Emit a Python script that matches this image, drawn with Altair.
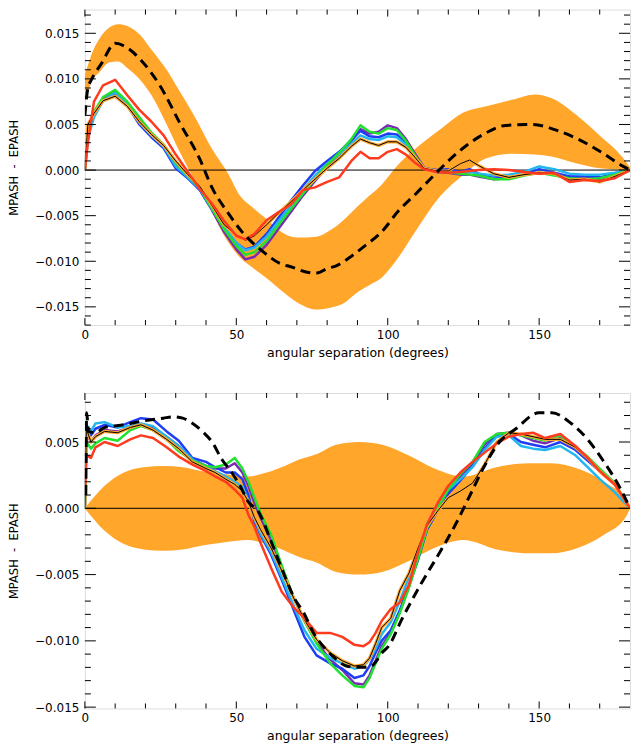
import altair as alt
import pandas as pd

# ---------------- TOP PANEL DATA ----------------
X_TOP = [0, 1, 3, 6, 10, 14, 18, 22, 26, 30, 34, 38, 42, 46, 50, 53, 56, 60, 64, 68,
         72, 76, 80, 84, 88, 91, 94, 97, 100, 103, 106, 109, 112, 116, 120, 124, 127, 130, 135, 140,
         145, 150, 155, 160, 165, 170, 175, 180]
BLACK_T = [0.0, 0.0050, 0.0062, 0.0076, 0.0081, 0.0070, 0.0053, 0.0039, 0.0027, 0.0010,
           -0.0005, -0.0018, -0.0039, -0.0060, -0.0071, -0.0077, -0.0072, -0.0060, -0.0047, -0.0035,
           -0.0022, -0.0010, 0.0002, 0.0013, 0.0026, 0.0034, 0.0030, 0.0027, 0.0031, 0.0031,
           0.0025, 0.0014, 0.0002, -0.0001, -0.0001, 0.0007, 0.0011, 0.0005, -0.0004, -0.0008,
           -0.0005, -0.0003, -0.0004, -0.0011, -0.0010, -0.0013, -0.0007, 0.0]
RED_T = [0.0, 0.0030, 0.0075, 0.0093, 0.0099, 0.0082, 0.0066, 0.0053, 0.0038, 0.0017,
         -0.0002, -0.0021, -0.0037, -0.0056, -0.0072, -0.0076, -0.0070, -0.0055, -0.0046, -0.0038,
         -0.0022, -0.0019, -0.0013, -0.0008, 0.0010, 0.0020, 0.0013, 0.0013, 0.0020, 0.0023,
         0.0017, 0.0008, 0.0001, -0.0002, -0.0003, -0.0002, -0.0001, 0.0000, 0.0001, 0.0000,
         -0.0002, -0.0004, -0.0003, -0.0013, -0.0011, -0.0012, -0.0009, 0.0]
GREEN_T = [0.0, 0.0045, 0.0064, 0.0080, 0.0088, 0.0075, 0.0058, 0.0041, 0.0028, 0.0008,
           -0.0006, -0.0020, -0.0042, -0.0065, -0.0083, -0.0093, -0.0090, -0.0078, -0.0060, -0.0043,
           -0.0026, -0.0010, 0.0006, 0.0019, 0.0034, 0.0049, 0.0042, 0.0040, 0.0046, 0.0044,
           0.0032, 0.0016, 0.0002, -0.0002, -0.0002, -0.0004, -0.0005, -0.0006, -0.0010, -0.0010,
           -0.0006, -0.0003, -0.0006, -0.0009, -0.0010, -0.0009, -0.0005, 0.0]
PURPLE_T = [0.0, 0.0042, 0.0062, 0.0078, 0.0086, 0.0073, 0.0055, 0.0039, 0.0026, 0.0006,
            -0.0007, -0.0022, -0.0044, -0.0068, -0.0087, -0.0098, -0.0095, -0.0082, -0.0064, -0.0046,
            -0.0028, -0.0012, 0.0004, 0.0017, 0.0032, 0.0045, 0.0040, 0.0042, 0.0049, 0.0046,
            0.0034, 0.0018, 0.0003, -0.0002, -0.0003, -0.0005, -0.0005, -0.0007, -0.0010, -0.0009,
            -0.0005, -0.0003, -0.0005, -0.0007, -0.0008, -0.0010, -0.0005, 0.0]
BLUE_T = [0.0, 0.0040, 0.0060, 0.0076, 0.0084, 0.0071, 0.0050, 0.0036, 0.0024, 0.0002,
          -0.0009, -0.0022, -0.0043, -0.0064, -0.0080, -0.0087, -0.0084, -0.0070, -0.0052, -0.0034,
          -0.0017, -0.0001, 0.0010, 0.0020, 0.0033, 0.0043, 0.0037, 0.0036, 0.0040, 0.0039,
          0.0030, 0.0015, 0.0002, 0.0000, 0.0001, -0.0002, 0.0001, -0.0004, -0.0007, -0.0008,
          -0.0005, 0.0001, -0.0003, -0.0007, -0.0007, -0.0008, -0.0004, 0.0]
CYAN_T = [0.0, 0.0035, 0.0058, 0.0076, 0.0085, 0.0072, 0.0052, 0.0038, 0.0026, 0.0004,
          -0.0008, -0.0021, -0.0043, -0.0063, -0.0080, -0.0088, -0.0085, -0.0073, -0.0056, -0.0039,
          -0.0022, -0.0006, 0.0007, 0.0017, 0.0029, 0.0038, 0.0034, 0.0033, 0.0037, 0.0036,
          0.0028, 0.0014, 0.0002, -0.0001, -0.0002, -0.0003, -0.0002, -0.0004, -0.0006, -0.0005,
          -0.0002, 0.0004, 0.0001, -0.0004, -0.0005, -0.0005, -0.0003, 0.0]
DASH_T_X = [0, 1, 2, 5.5, 10, 14, 18.4, 24.9, 31.3, 37.8, 42.1, 47.5, 51.7, 58.3, 64.8, 68, 73.4,
            76.6, 80, 83, 87.4, 91.7, 98.2, 103.5, 109, 114.3, 119.7, 126, 132.6, 139, 147.7,
            156.3, 162.8, 170.3, 177.8, 180]
DASH_T = [0.0060, 0.0090, 0.0098, 0.0117, 0.0139, 0.0134, 0.0121, 0.0092, 0.0052, 0.0013,
          -0.0020, -0.0048, -0.0067, -0.0088, -0.0103, -0.0106, -0.0112, -0.0113, -0.0108, -0.0105,
          -0.0096, -0.0085, -0.0067, -0.0045, -0.0027, -0.0009, 0.0009, 0.0027, 0.0041, 0.0049,
          0.0050, 0.0043, 0.0034, 0.0020, 0.0004, 0.0]
BAND_T_X = [0, 1, 2, 5, 8, 11, 14, 18, 22, 27, 31, 36, 42, 47.5, 51, 55, 59.4, 66, 70, 76.6,
            81, 85, 90, 94, 98, 103.5, 109, 117.5, 125, 132.6, 141, 148.7, 154, 162.8, 170, 177.8, 180]
BAND_T_HI = [0.0105, 0.0115, 0.0125, 0.0145, 0.0156, 0.0160, 0.0158, 0.0149, 0.0132, 0.0110,
             0.0088, 0.0060, 0.0023, -0.0005, -0.0027, -0.0040, -0.0052, -0.0070, -0.0074, -0.0073,
             -0.0066, -0.0056, -0.0040, -0.0028, -0.0016, 0.0006, 0.0023, 0.0045, 0.0063, 0.0070,
             0.0077, 0.0083, 0.0079, 0.0059, 0.0038, 0.0013, 0.0003]
BAND_T_LO = [0.0075, 0.0085, 0.0095, 0.0108, 0.0118, 0.0119, 0.0112, 0.0100, 0.0082, 0.0050,
             0.0022, -0.0010, -0.0047, -0.0080, -0.0095, -0.0106, -0.0117, -0.0135, -0.0145, -0.0153,
             -0.0151, -0.0147, -0.0134, -0.0126, -0.0118, -0.0096, -0.0068, -0.0028, -0.0005, 0.0013,
             0.0018, 0.0017, 0.0015, 0.0007, 0.0002, 0.0000, -0.0003]

# ---------------- BOTTOM PANEL DATA ----------------
X_BOT = [0, 0.5, 2, 3.5, 6.5, 10.8, 15, 18.5, 22.5, 27, 31, 35.5, 40, 43, 46.5, 49.5, 52, 54, 56, 58,
         61.5, 65, 69, 72.5, 76.5, 81, 85, 89, 92, 94, 96, 98, 101, 104, 107, 110, 113, 116.5, 120, 124,
         128, 132, 136, 140, 144, 148, 152, 157, 162, 166, 170, 175, 180]
BLACK_B = [0.0, 0.0060, 0.0050, 0.0054, 0.0058, 0.0057, 0.0061, 0.0063, 0.0059, 0.0052,
           0.0045, 0.0035, 0.0030, 0.0027, 0.0022, 0.0018, 0.0013, 0.0005, -0.0007, -0.0016,
           -0.0030, -0.0047, -0.0068, -0.0084, -0.0099, -0.0109, -0.0115, -0.0119, -0.0118, -0.0113,
           -0.0102, -0.0090, -0.0083, -0.0062, -0.0049, -0.0030, -0.0013, -0.0002, 0.0008, 0.0013,
           0.0019, 0.0033, 0.0050, 0.0057, 0.0056, 0.0054, 0.0052, 0.0052, 0.0046, 0.0038,
           0.0028, 0.0018, 0.0]
RED_B = [0.0010, 0.0040, 0.0038, 0.0046, 0.0050, 0.0047, 0.0052, 0.0055, 0.0053, 0.0046,
         0.0039, 0.0033, 0.0028, 0.0024, 0.0020, 0.0014, 0.0008, -0.0005, -0.0014, -0.0026,
         -0.0045, -0.0063, -0.0075, -0.0083, -0.0094, -0.0094, -0.0097, -0.0103, -0.0104, -0.0101,
         -0.0094, -0.0085, -0.0076, -0.0071, -0.0058, -0.0033, -0.0012, 0.0004, 0.0017, 0.0027,
         0.0035, 0.0042, 0.0049, 0.0054, 0.0056, 0.0057, 0.0053, 0.0056, 0.0047, 0.0038,
         0.0028, 0.0018, 0.0]
GREEN_B = [0.0, 0.0050, 0.0045, 0.0049, 0.0053, 0.0051, 0.0059, 0.0062, 0.0059, 0.0052,
           0.0043, 0.0036, 0.0032, 0.0031, 0.0033, 0.0038, 0.0030, 0.0020, 0.0008, -0.0004,
           -0.0020, -0.0043, -0.0068, -0.0085, -0.0102, -0.0117, -0.0126, -0.0134, -0.0135, -0.0128,
           -0.0117, -0.0106, -0.0095, -0.0079, -0.0060, -0.0038, -0.0015, 0.0000, 0.0014, 0.0026,
           0.0035, 0.0050, 0.0056, 0.0057, 0.0055, 0.0053, 0.0051, 0.0055, 0.0046, 0.0039,
           0.0030, 0.0019, 0.0]
BLUE_B = [0.0, 0.0062, 0.0055, 0.0060, 0.0063, 0.0061, 0.0065, 0.0068, 0.0067, 0.0058,
          0.0051, 0.0038, 0.0035, 0.0031, 0.0027, 0.0027, 0.0022, 0.0010, -0.0010, -0.0020,
          -0.0035, -0.0054, -0.0077, -0.0097, -0.0111, -0.0117, -0.0121, -0.0128, -0.0126, -0.0119,
          -0.0109, -0.0100, -0.0092, -0.0077, -0.0058, -0.0039, -0.0016, -0.0002, 0.0011, 0.0021,
          0.0032, 0.0045, 0.0055, 0.0056, 0.0050, 0.0048, 0.0046, 0.0050, 0.0044, 0.0036,
          0.0028, 0.0018, 0.0]
CYAN_B = [0.0, 0.0063, 0.0058, 0.0064, 0.0065, 0.0061, 0.0062, 0.0064, 0.0062, 0.0054,
          0.0047, 0.0037, 0.0031, 0.0028, 0.0024, 0.0020, 0.0016, 0.0006, -0.0008, -0.0019,
          -0.0033, -0.0052, -0.0074, -0.0092, -0.0106, -0.0113, -0.0117, -0.0121, -0.0119, -0.0114,
          -0.0106, -0.0095, -0.0086, -0.0070, -0.0052, -0.0032, -0.0012, 0.0003, 0.0014, 0.0022,
          0.0031, 0.0044, 0.0054, 0.0055, 0.0047, 0.0045, 0.0044, 0.0047, 0.0040, 0.0031,
          0.0022, 0.0012, 0.0]
PURPLE_B = [0.0, 0.0058, 0.0050, 0.0055, 0.0059, 0.0058, 0.0061, 0.0063, 0.0061, 0.0054,
            0.0047, 0.0037, 0.0032, 0.0030, 0.0030, 0.0034, 0.0027, 0.0017, 0.0004, -0.0007,
            -0.0024, -0.0045, -0.0068, -0.0085, -0.0101, -0.0114, -0.0122, -0.0132, -0.0133, -0.0126,
            -0.0115, -0.0104, -0.0094, -0.0078, -0.0059, -0.0038, -0.0015, 0.0000, 0.0013, 0.0024,
            0.0034, 0.0048, 0.0056, 0.0057, 0.0055, 0.0051, 0.0049, 0.0053, 0.0045, 0.0037,
            0.0029, 0.0018, 0.0]
DASH_B_X = [0.3, 0.6, 1.2, 3.5, 6.5, 12.9, 19.4, 25.9, 29, 32.3, 35.6, 38.8, 42, 45.2, 48.5, 51.7,
            53.9, 57.2, 61.5, 65.8, 69, 72.3, 75.5, 79.8, 83, 86.3, 90, 93.8, 96, 98.1, 100.3,
            104.6, 111, 117.5, 122.9, 127.2, 131.5, 136.9, 142.3, 149.9, 154.2, 160.6, 166, 171.4,
            176.8, 180]
DASH_B = [0.0010, 0.0072, 0.0058, 0.0057, 0.0061, 0.0063, 0.0066, 0.0068, 0.0069, 0.0068,
          0.0064, 0.0058, 0.0050, 0.0037, 0.0027, 0.0015, 0.0005, -0.0002, -0.0025, -0.0050,
          -0.0067, -0.0079, -0.0094, -0.0107, -0.0114, -0.0119, -0.0120, -0.0120, -0.0116, -0.0109,
          -0.0104, -0.0084, -0.0057, -0.0032, -0.0010, 0.0010, 0.0030, 0.0050, 0.0060, 0.0072,
          0.0072, 0.0064, 0.0052, 0.0035, 0.0015, 0.0]
BAND_B_X = [0, 6.5, 12.9, 19.4, 25.9, 32.3, 38.8, 45.2, 53.9, 60, 66, 71, 76.6, 83, 90.6, 98.2,
            106.8, 115.4, 125, 135.9, 146.6, 154, 162.7, 171.4, 179, 180]
BAND_B_HALF = [0.0, 0.0017, 0.0027, 0.0031, 0.0032, 0.0031, 0.0028, 0.0026, 0.0024, 0.0027,
               0.0032, 0.0037, 0.0041, 0.0048, 0.0050, 0.0048, 0.0040, 0.0030, 0.0024, 0.0031,
               0.0034, 0.0034, 0.0030, 0.0020, 0.0005, 0.0]

# ---------------- TICKS ----------------
X_MAJOR = [0, 50, 100, 150]
X_MINOR = [10, 20, 30, 40, 60, 70, 80, 90, 110, 120, 130, 140, 160, 170]
Y_TOP_MAJOR = [-0.015, -0.010, -0.005, 0.0, 0.005, 0.010, 0.015]
Y_TOP_MINOR = [-0.017, -0.016, -0.014, -0.013, -0.012, -0.011, -0.009, -0.008, -0.007, -0.006,
               -0.004, -0.003, -0.002, -0.001, 0.001, 0.002, 0.003, 0.004, 0.006, 0.007, 0.008,
               0.009, 0.011, 0.012, 0.013, 0.014, 0.016, 0.017]
Y_BOT_MAJOR = [-0.015, -0.010, -0.005, 0.0, 0.005]
Y_BOT_MINOR = [-0.014, -0.013, -0.012, -0.011, -0.009, -0.008, -0.007, -0.006, -0.004, -0.003,
               -0.002, -0.001, 0.001, 0.002, 0.003, 0.004, 0.006, 0.007, 0.008]

ORANGE = "#FFA62B"
PURPLE = "#7A2AB5"
BLUE = "#1F3DF5"
CYAN = "#22B5F0"
GREEN = "#22E02E"
RED = "#FF3A1E"
FONT = "DejaVu Sans"
W = 546


def make_panel(H, ydom, ymaj, ymin, band_df, lines, dash_x, dash_y):
    xs = alt.Scale(domain=[0, 180], nice=False, zero=False)
    ys = alt.Scale(domain=ydom, nice=False, zero=False)
    xax = alt.Axis(values=X_MAJOR, format="d", title="angular separation (degrees)",
                   ticks=False, tickSize=0, domain=False, grid=False, labelPadding=4,
                   labelFlush=False, labelFont=FONT, labelFontSize=12, labelColor="black",
                   titleFont=FONT, titleFontSize=12.5, titleFontWeight="normal",
                   titleColor="black", titleY=27, titleBaseline="middle",
                   minExtent=18, maxExtent=18)
    yax = alt.Axis(values=ymaj, format=".3f", title="MPASH\u00a0\u00a0-\u00a0\u00a0EPASH",
                   ticks=False, tickSize=0, domain=False, grid=False, labelPadding=6,
                   labelFont=FONT, labelFontSize=12, labelColor="black",
                   titleFont=FONT, titleFontSize=11.5, titleFontWeight="normal",
                   titleColor="black", titleX=-70, titleY=H / 2, titleAngle=270,
                   titleBaseline="middle", titleAlign="center")

    def X(f):
        return alt.X(f, type="quantitative", scale=xs, axis=xax)

    def Y(f):
        return alt.Y(f, type="quantitative", scale=ys, axis=yax)

    layers = []
    layers.append(alt.Chart(band_df).mark_area(color=ORANGE, opacity=1, clip=True,
                                               interpolate="monotone")
                  .encode(x=X("x"), y=Y("lo"), y2="hi"))
    layers.append(alt.Chart(pd.DataFrame({"v": [0.0]})).mark_rule(color="black", strokeWidth=1)
                  .encode(y=Y("v")))
    for xs_, ys_, col, wdt in lines:
        df = pd.DataFrame({"x": xs_, "y": ys_})
        layers.append(alt.Chart(df).mark_line(color=col, strokeWidth=wdt, clip=True,
                                              strokeJoin="round")
                      .encode(x=X("x"), y=Y("y")))
    ddf = pd.DataFrame({"x": dash_x, "y": dash_y})
    layers.append(alt.Chart(ddf).mark_line(color="black", strokeWidth=3, strokeDash=[10, 6],
                                           clip=True, interpolate="monotone")
                  .encode(x=X("x"), y=Y("y")))
    # inward ticks
    xmaj = pd.DataFrame({"t": X_MAJOR})
    xmin = pd.DataFrame({"t": X_MINOR})
    for d, L in ((xmaj, 7), (xmin, 5)):
        layers.append(alt.Chart(d).mark_rule(color="black", strokeWidth=1)
                      .encode(x=X("t"), y=alt.value(H), y2=alt.value(H - L)))
        layers.append(alt.Chart(d).mark_rule(color="black", strokeWidth=1)
                      .encode(x=X("t"), y=alt.value(0), y2=alt.value(L)))
    ymj = pd.DataFrame({"t": ymaj})
    ymn = pd.DataFrame({"t": ymin})
    for d, L in ((ymj, 11), (ymn, 6)):
        layers.append(alt.Chart(d).mark_rule(color="black", strokeWidth=1)
                      .encode(y=Y("t"), x=alt.value(0), x2=alt.value(L)))
        layers.append(alt.Chart(d).mark_rule(color="black", strokeWidth=1)
                      .encode(y=Y("t"), x=alt.value(W), x2=alt.value(W - L)))
    return alt.layer(*layers).properties(width=W, height=H)


band_top = pd.DataFrame({"x": BAND_T_X, "lo": BAND_T_LO, "hi": BAND_T_HI})
band_bot = pd.DataFrame({"x": BAND_B_X,
                         "lo": [-h for h in BAND_B_HALF],
                         "hi": BAND_B_HALF})


def lineset(X_, P, B, C, G, K, R):
    return [
        (X_, P, PURPLE, 2.5),
        (X_, B, BLUE, 2.5),
        (X_, C, CYAN, 2.5),
        (X_, G, GREEN, 2.5),
        (X_, K, ORANGE, 3.2),
        (X_, K, "black", 1),
        (X_, R, RED, 2.5),
    ]


top = make_panel(316, [-0.0170, 0.0176], Y_TOP_MAJOR, Y_TOP_MINOR, band_top,
                 lineset(X_TOP, PURPLE_T, BLUE_T, CYAN_T, GREEN_T, BLACK_T, RED_T),
                 DASH_T_X, DASH_T)
bottom = make_panel(316, [-0.0151, 0.0087], Y_BOT_MAJOR, Y_BOT_MINOR, band_bot,
                    lineset(X_BOT, PURPLE_B, BLUE_B, CYAN_B, GREEN_B, BLACK_B, RED_B),
                    DASH_B_X, DASH_B)

chart = alt.vconcat(top, bottom, spacing=33).properties(
    padding={"left": 0, "right": 0, "top": 0, "bottom": 0}
).configure_view(stroke="black", strokeWidth=1).configure(background="white")

chart.save("out.html", embed_options={"renderer": "svg", "actions": False})
